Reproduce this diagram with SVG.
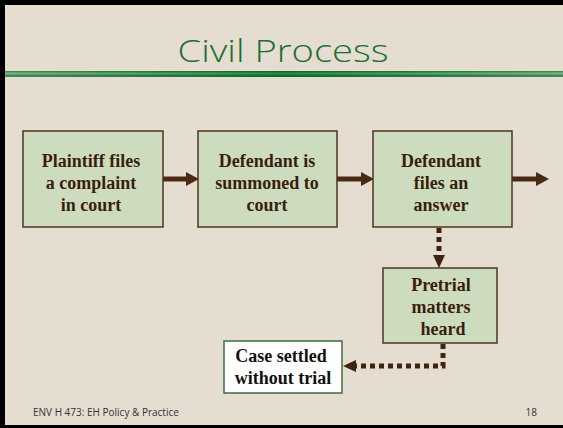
<svg xmlns="http://www.w3.org/2000/svg" width="563" height="428" viewBox="0 0 563 428">
  <defs>
    <linearGradient id="rule" x1="0" y1="0" x2="1" y2="0">
      <stop offset="0" stop-color="#3f8a55"/>
      <stop offset="0.5" stop-color="#0b6a2c"/>
      <stop offset="1" stop-color="#3f8a55"/>
    </linearGradient>
    <linearGradient id="ruleHi" x1="0" y1="0" x2="1" y2="0">
      <stop offset="0" stop-color="#7fb48d"/>
      <stop offset="0.5" stop-color="#2f8a4a"/>
      <stop offset="1" stop-color="#7fb48d"/>
    </linearGradient>
    <marker id="solidHead" viewBox="0 0 13 14" refX="0" refY="7" markerWidth="13" markerHeight="14" markerUnits="userSpaceOnUse" orient="auto">
      <path d="M0,0 L13,7 L0,14 Z" fill="#4a2a12"/>
    </marker>
    <marker id="dotHead" viewBox="0 0 13 12" refX="0" refY="6" markerWidth="13" markerHeight="12" markerUnits="userSpaceOnUse" orient="auto">
      <path d="M0,0 L13,6 L0,12 Z" fill="#3e2410"/>
    </marker>
  </defs>
  <style>
    .box { fill: #cddcbe; stroke: #4e3420; stroke-width: 1.5; }
    .wbox { fill: #ffffff; stroke: #3a6e3a; stroke-width: 1.5; }
    .lbl { font-family: "Liberation Serif", "Times New Roman", serif; font-weight: bold; font-size: 18px; fill: #3a1e0c; text-anchor: middle; }
    .lblk { font-family: "Liberation Serif", "Times New Roman", serif; font-weight: bold; font-size: 18px; fill: #111111; text-anchor: middle; }
    .solid { stroke: #4a2a12; stroke-width: 5; fill: none; }
    .dotted { stroke: #3e2410; stroke-width: 5; fill: none; stroke-dasharray: 5 4; }
    .foot { font-family: "Open Sans", "DejaVu Sans", sans-serif; font-size: 10px; fill: #333333; }
  </style>

  <rect x="0" y="0" width="563" height="428" fill="#e5ddd0"/>
  <rect x="0" y="0" width="5" height="428" fill="#000"/>
  <rect x="0" y="0" width="563" height="5" fill="#000"/>
  <rect x="0" y="425" width="563" height="3" fill="#000"/>

  <g id="title">
    <text x="283" y="62" font-family="Open Sans, DejaVu Sans, sans-serif" font-size="31" font-weight="300" fill="#1c6e34" text-anchor="middle" textLength="211" lengthAdjust="spacingAndGlyphs">Civil Process</text>
    <rect x="5" y="71" width="558" height="6" fill="url(#rule)"/>
    <rect x="5" y="72.5" width="558" height="2" fill="url(#ruleHi)"/>
  </g>

  <g id="connectors">
    <line class="solid" x1="163" y1="179" x2="186" y2="179" marker-end="url(#solidHead)"/>
    <line class="solid" x1="337" y1="179" x2="361" y2="179" marker-end="url(#solidHead)"/>
    <line class="solid" x1="512" y1="179" x2="536" y2="179" marker-end="url(#solidHead)"/>
    <line class="dotted" x1="439" y1="228" x2="439" y2="255" marker-end="url(#dotHead)"/>
    <polyline class="dotted" points="443,344 443,366 356,366" marker-end="url(#dotHead)"/>
  </g>

  <g id="node-plaintiff">
    <rect class="box" x="23" y="131" width="140" height="96"/>
    <text class="lbl" x="91" y="167">Plaintiff files</text>
    <text class="lbl" x="91" y="189">a complaint</text>
    <text class="lbl" x="91" y="211">in court</text>
  </g>

  <g id="node-summoned">
    <rect class="box" x="198" y="131" width="139" height="96"/>
    <text class="lbl" x="267" y="167">Defendant is</text>
    <text class="lbl" x="267" y="189">summoned to</text>
    <text class="lbl" x="267" y="211">court</text>
  </g>

  <g id="node-answer">
    <rect class="box" x="373" y="131" width="139" height="96"/>
    <text class="lbl" x="441" y="167">Defendant</text>
    <text class="lbl" x="441" y="189">files an</text>
    <text class="lbl" x="441" y="211">answer</text>
  </g>

  <g id="node-pretrial">
    <rect class="box" x="383" y="268" width="114" height="75"/>
    <text class="lbl" x="441" y="291">Pretrial</text>
    <text class="lbl" x="441" y="313">matters</text>
    <text class="lbl" x="443" y="335">heard</text>
  </g>

  <g id="node-settled">
    <rect class="wbox" x="224" y="341" width="118" height="52"/>
    <text class="lblk" x="281" y="362">Case settled</text>
    <text class="lblk" x="283" y="384">without trial</text>
  </g>

  <g id="footer">
    <text class="foot" x="33" y="416">ENV H 473: EH Policy &amp; Practice</text>
    <text class="foot" x="537" y="416" text-anchor="end">18</text>
  </g>
</svg>
